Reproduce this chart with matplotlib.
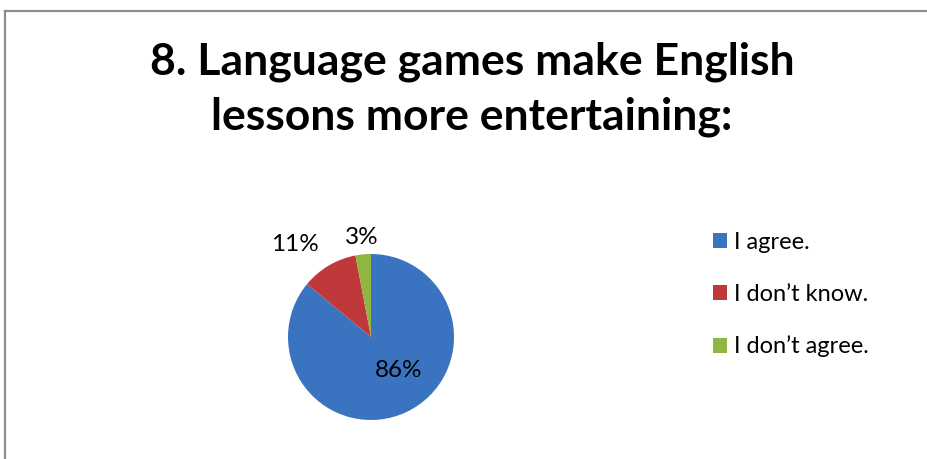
import numpy as np
import matplotlib
matplotlib.use("Agg")
import matplotlib.pyplot as plt
from matplotlib.lines import Line2D
from matplotlib.patches import Patch

title = "8. Language games make English\nlessons more entertaining:"
answers = ["I agree.", "I don\u2019t know.", "I don\u2019t agree."]
shares = [86, 11, 3]
colors = ["#3a74c0", "#c0393a", "#8fb640"]

# label placement per wedge: (radius, angle offset from the wedge middle in degrees)
label_spots = [(0.52, 14), (1.44, 9), (1.21, 0)]

plt.rcParams["font.family"] = ["Lato", "DejaVu Sans"]

W, H = 928, 459
fig = plt.figure(figsize=(W / 100, H / 100), dpi=100)

cx, cy, r = 371, 337, 83
ax = fig.add_axes([(cx - r) / W, (H - cy - r) / H, 2 * r / W, 2 * r / H])
wedges, _ = ax.pie(shares, colors=colors, startangle=90, counterclock=False,
                   radius=1.0, wedgeprops={"linewidth": 0})
ax.set_xlim(-1, 1)
ax.set_ylim(-1, 1)
ax.set_aspect("equal")
ax.axis("off")

for wedge, value, (dist, shift) in zip(wedges, shares, label_spots):
    mid = np.deg2rad((wedge.theta1 + wedge.theta2) / 2 + shift)
    ax.text(dist * np.cos(mid), dist * np.sin(mid), f"{value}%",
            ha="center", va="center", fontsize=17.5, color="black")

fig.text(472 / W, 1 - 89 / H, title, ha="center", va="center",
         fontsize=32, fontweight="bold", linespacing=1.45)

handles = [Patch(facecolor=c, edgecolor="none") for c in colors]
fig.legend(handles, answers, loc="upper left", bbox_to_anchor=(692 / W, 1 - 211 / H),
           frameon=False, fontsize=17, handlelength=0.6, handleheight=0.6,
           handletextpad=0.3, labelspacing=1.3)

# chart area border (top and left edges)
fig.add_artist(Line2D([4.5 / W, 4.5 / W], [0, 1 - 10.5 / H], color="#8c8c8c", lw=1.6))
fig.add_artist(Line2D([4.5 / W, 1], [1 - 10.5 / H, 1 - 10.5 / H], color="#8c8c8c", lw=1.6))

fig.savefig("out.png", dpi=100)
